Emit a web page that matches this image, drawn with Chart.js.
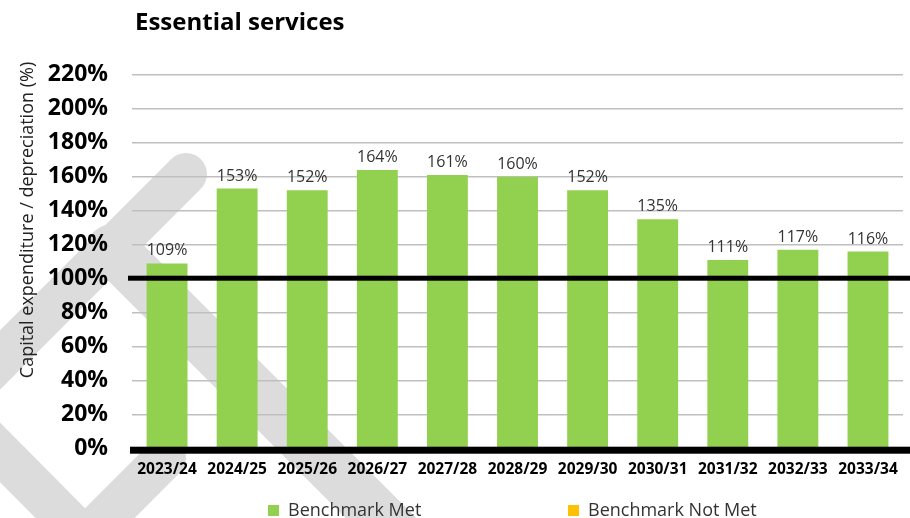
<!DOCTYPE html>
<html>
<head>
<meta charset="utf-8">
<title>Essential services</title>
<script src="https://cdn.jsdelivr.net/npm/chart.js@4.4.1/dist/chart.umd.min.js"></script>
<style>
    html, body {
        margin: 0;
        padding: 0;
        background: #fff;
    }
    #wrap {
        position: relative;
        width: 910px;
        height: 518px;
        overflow: hidden;
        font-family: 'Open Sans', sans-serif;
    }
    #chart {
        position: absolute;
        left: 0;
        top: 0;
    }
    #chart-title {
        position: absolute;
        left: 135px;
        top: 9px;
        margin: 0;
        font-size: 24px;
        line-height: 24px;
        font-weight: 700;
        color: #000;
    }
    .legend-item {
        position: absolute;
        top: 500px;
        display: flex;
        align-items: center;
        font-size: 18px;
        line-height: 18px;
        color: #333;
        white-space: nowrap;
    }
    .legend-box {
        width: 11px;
        height: 11px;
        margin-right: 9px;
        margin-top: 3px;
    }
</style>
</head>
<body>
<div id="wrap">
    <canvas id="chart" width="910" height="518"></canvas>
    <h1 id="chart-title">Essential services</h1>
    <div id="legend"></div>
</div>
<script>
const categories = ['2023/24', '2024/25', '2025/26', '2026/27', '2027/28', '2028/29',
    '2029/30', '2030/31', '2031/32', '2032/33', '2033/34'];
const ratioValues = [109, 153, 152, 164, 161, 160, 152, 135, 111, 117, 116];
const yTicks = [0, 20, 40, 60, 80, 100, 120, 140, 160, 180, 200, 220];
const benchmark = 100;
const legendLabels = ['Benchmark Met', 'Benchmark Not Met'];
const legendColors = ['#92D050', '#FFC000'];
const yTitle = 'Capital expenditure / depreciation (%)';

const FONT = "'Open Sans', sans-serif";

// light grey stamp in the background, under grid and bars
const watermark = {
    id: 'watermark',
    beforeDraw(chart) {
        const ctx = chart.ctx;
        ctx.save();
        ctx.strokeStyle = '#dcdcdc';
        ctx.lineCap = 'round';
        ctx.lineJoin = 'round';
        ctx.lineWidth = 42;
        ctx.beginPath();
        ctx.moveTo(186, 174);
        ctx.lineTo(-46, 406);
        ctx.lineTo(85, 538);
        ctx.lineTo(165, 458);
        ctx.stroke();
        ctx.lineWidth = 50;
        ctx.beginPath();
        ctx.moveTo(112, 249);
        ctx.lineTo(440, 577);
        ctx.stroke();
        ctx.restore();
    }
};

// benchmark line at 100% and the heavy zero line
const refLines = {
    id: 'refLines',
    afterDatasetsDraw(chart) {
        const ctx = chart.ctx;
        const y = chart.scales.y;
        ctx.save();
        ctx.fillStyle = '#000';
        const yb = y.getPixelForValue(benchmark);
        ctx.fillRect(128, yb - 3, 910 - 128, 5);
        const y0 = y.getPixelForValue(0);
        ctx.fillRect(130, y0 - 2, 910 - 130, 7);
        ctx.restore();
    }
};

// percentage above each bar
const valueLabels = {
    id: 'valueLabels',
    afterDatasetsDraw(chart) {
        const ctx = chart.ctx;
        const meta = chart.getDatasetMeta(0);
        ctx.save();
        ctx.font = '16px ' + FONT;
        ctx.fillStyle = '#333';
        ctx.textAlign = 'center';
        ctx.textBaseline = 'alphabetic';
        meta.data.forEach((bar, i) => {
            ctx.fillText(ratioValues[i] + '%', bar.x, bar.y - 8);
        });
        ctx.restore();
    }
};

// rotated y axis title, sits a bit above the plot centre
const axisTitle = {
    id: 'axisTitle',
    afterDraw(chart) {
        const ctx = chart.ctx;
        ctx.save();
        ctx.translate(33, 220);
        ctx.rotate(-Math.PI / 2);
        ctx.font = '18px ' + FONT;
        ctx.fillStyle = '#222';
        ctx.textAlign = 'center';
        ctx.textBaseline = 'alphabetic';
        ctx.fillText(yTitle, 0, 0);
        ctx.restore();
    }
};

const chart = new Chart(document.getElementById('chart'), {
    type: 'bar',
    data: {
        labels: categories,
        datasets: [{
            label: legendLabels[0],
            data: ratioValues,
            backgroundColor: ratioValues.map(v => v >= benchmark ? legendColors[0] : legendColors[1]),
            barPercentage: 0.583,
            categoryPercentage: 1
        }]
    },
    options: {
        responsive: false,
        animation: false,
        devicePixelRatio: 1,
        layout: {
            padding: { left: 0, right: 5, top: 74.7, bottom: 29.3 }
        },
        plugins: {
            legend: { display: false },
            title: { display: false },
            tooltip: { enabled: false }
        },
        scales: {
            x: {
                grid: { display: false, drawTicks: false },
                border: { display: false },
                ticks: {
                    color: '#000',
                    font: { family: FONT, size: 15.5, weight: 'bold' },
                    padding: 12,
                    maxRotation: 0,
                    autoSkip: false
                },
                afterFit(scale) {
                    scale.height = 40;
                }
            },
            y: {
                min: 0,
                max: 220,
                afterBuildTicks(scale) {
                    scale.ticks = yTicks.map(v => ({ value: v }));
                },
                ticks: {
                    color: '#000',
                    font: { family: FONT, size: 23, weight: 'bold' },
                    padding: 24,
                    callback: v => v + '%'
                },
                grid: {
                    color: '#bfbfbf',
                    lineWidth: 1.5,
                    drawTicks: false
                },
                border: { display: false },
                afterFit(scale) {
                    scale.width = 132;
                }
            }
        }
    },
    plugins: [watermark, refLines, valueLabels, axisTitle]
});

// legend below the plot
const legendLefts = [268, 568];
const legend = document.getElementById('legend');
legendLabels.forEach((text, i) => {
    const item = document.createElement('div');
    item.className = 'legend-item';
    item.style.left = legendLefts[i] + 'px';
    const box = document.createElement('span');
    box.className = 'legend-box';
    box.style.background = legendColors[i];
    const label = document.createElement('span');
    label.textContent = text;
    item.appendChild(box);
    item.appendChild(label);
    legend.appendChild(item);
});
</script>
</body>
</html>
